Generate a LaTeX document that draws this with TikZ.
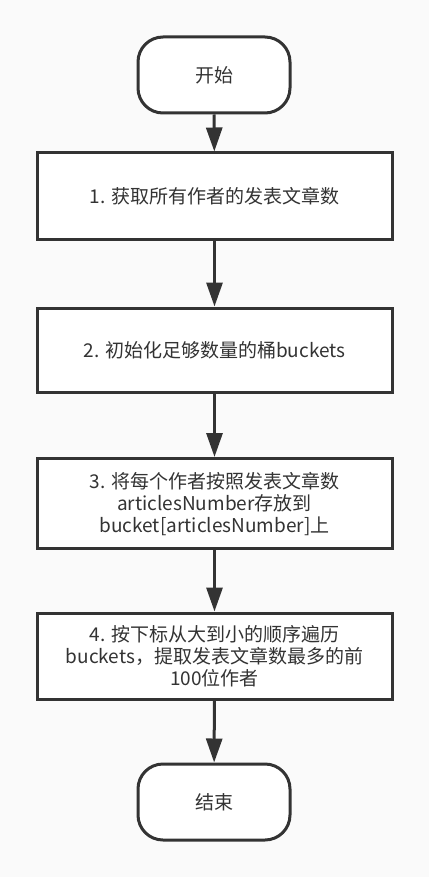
\documentclass[tikz,border=0pt]{standalone}
\usepackage{fontspec}
\setmainfont{Noto Sans CJK SC}
\usetikzlibrary{arrows.meta}
\definecolor{ink}{HTML}{333333}
\definecolor{bg}{HTML}{FAFAFA}
\tikzset{
  base/.style={draw=ink, line width=3pt, fill=white, text=ink, align=center,
    font=\fontsize{19pt}{22pt}\selectfont, inner sep=0pt},
  term/.style={base, minimum width=152pt, minimum height=76pt, rounded corners=25pt},
  proc/.style={base, minimum width=355pt},
  conn/.style={draw=ink, line width=3pt, -{Triangle[length=24pt,width=16pt]}}
}
\begin{document}
\begin{tikzpicture}[x=1pt,y=1pt]
\fill[bg] (0,0) rectangle (429,-877);
\useasboundingbox (0,0) rectangle (429,-877);
\node[term] (s) at (214,-75) {开始};
\node[proc, minimum height=86pt] (b1) at (214.5,-196) {1. 获取所有作者的发表文章数};
\node[proc, minimum height=84pt] (b2) at (214.5,-350) {2. 初始化足够数量的桶buckets};
\node[proc, minimum height=90pt] (b3) at (214.5,-503.5) {3. 将每个作者按照发表文章数\\articlesNumber存放到\\bucket[articlesNumber]上};
\node[proc, minimum height=86pt] (b4) at (214.5,-656) {4. 按下标从大到小的顺序遍历\\buckets，提取发表文章数最多的前\\100位作者};
\node[term] (e) at (214,-802) {结束};
\draw[conn] (s) -- (b1);
\draw[conn] (b1) -- (b2);
\draw[conn] (b2) -- (b3);
\draw[conn] (b3) -- (b4);
\draw[conn] (b4) -- (e);
\end{tikzpicture}
\end{document}
